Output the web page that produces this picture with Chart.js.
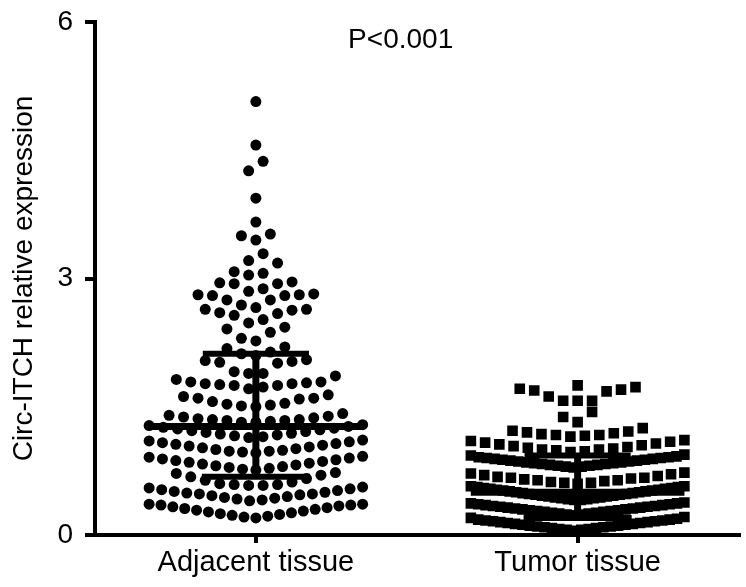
<!DOCTYPE html>
<html>
<head>
<meta charset="utf-8">
<script src="https://cdn.jsdelivr.net/npm/chart.js@4.4.1/dist/chart.umd.min.js"></script>
<style>
  html, body { margin: 0; padding: 0; background: #fff; }
  #wrap { width: 746px; height: 587px; }
</style>
</head>
<body>
<div id="wrap"><canvas id="myChart" width="746" height="587"></canvas></div>
<script>
// values
var categories = ["Adjacent tissue", "Tumor tissue"];
var yTicks = [0, 3, 6];
var pLabel = "P<0.001";

var adjacentValues = [
  0.20, 0.21, 0.22, 0.23, 0.24, 0.25, 0.26, 0.27, 0.28, 0.29, 0.30, 0.31, 0.32, 0.33, 0.34, 0.35, 0.35, 0.36, 0.36,
  0.40, 0.41, 0.42, 0.43, 0.44, 0.45, 0.46, 0.47, 0.48, 0.48, 0.49, 0.50, 0.51, 0.52, 0.53, 0.54, 0.55, 0.56,
  0.58, 0.58, 0.59, 0.59, 0.60, 0.62, 0.64, 0.66, 0.68, 0.70, 0.72, 0.73,
  0.76, 0.77, 0.78, 0.79, 0.80, 0.81, 0.82, 0.83, 0.84, 0.85, 0.86, 0.87, 0.88, 0.89, 0.90, 0.91, 0.92,
  0.96, 0.97, 0.98, 0.98, 0.99, 1.00, 1.01, 1.02, 1.03, 1.04, 1.05, 1.06, 1.07, 1.08, 1.09, 1.10, 1.11,
  1.14, 1.15, 1.16, 1.17, 1.18, 1.19, 1.20, 1.21, 1.22, 1.23, 1.24, 1.25, 1.26, 1.27, 1.28, 1.29,
  1.32, 1.32, 1.33, 1.34, 1.34, 1.35, 1.35, 1.36, 1.37, 1.38, 1.39, 1.40, 1.42,
  1.50, 1.51, 1.52, 1.53, 1.54, 1.56, 1.59, 1.60, 1.60, 1.62, 1.64,
  1.71, 1.73, 1.75, 1.75, 1.76, 1.77, 1.77, 1.78, 1.79, 1.79, 1.82, 1.86,
  1.89, 1.89, 1.91, 2.01, 2.02, 2.03, 2.04, 2.05,
  2.10, 2.12, 2.14, 2.18, 2.20,
  2.27, 2.30, 2.37, 2.41, 2.43,
  2.48, 2.52, 2.57, 2.59, 2.60, 2.63, 2.64, 2.64,
  2.66, 2.69, 2.75, 2.75, 2.80, 2.80, 2.81, 2.81, 2.82,
  2.85, 2.88, 2.94, 2.94, 2.95, 2.96,
  3.04, 3.06, 3.08, 3.18, 3.21, 3.29,
  3.45, 3.50, 3.52, 3.66, 3.94, 4.26, 4.37, 4.56, 5.07
];

var tumorValues = [
  0.05, 0.06, 0.06, 0.07, 0.07, 0.08, 0.08, 0.09, 0.09, 0.10, 0.10, 0.11, 0.11, 0.12, 0.12,
  0.13, 0.13, 0.14, 0.14, 0.15, 0.15, 0.16, 0.16, 0.17, 0.17, 0.18, 0.18, 0.19, 0.20, 0.21,
  0.23, 0.24, 0.24, 0.25, 0.25, 0.26, 0.26, 0.27, 0.27, 0.28, 0.28, 0.29, 0.29, 0.30, 0.30,
  0.31, 0.31, 0.32, 0.32, 0.33, 0.33, 0.34, 0.34, 0.35, 0.35, 0.36, 0.36, 0.37, 0.37, 0.38,
  0.41, 0.41, 0.42, 0.42, 0.43, 0.43, 0.44, 0.44, 0.45, 0.45, 0.46, 0.46, 0.47, 0.47, 0.48, 0.48, 0.49,
  0.49, 0.50, 0.50, 0.51, 0.51, 0.52, 0.52, 0.53, 0.53, 0.54, 0.54, 0.55, 0.55, 0.56, 0.56, 0.57, 0.57,
  0.60, 0.61, 0.61, 0.62, 0.63, 0.64, 0.64, 0.65, 0.66, 0.67, 0.67, 0.68, 0.69, 0.70, 0.71, 0.72, 0.73,
  0.79, 0.80, 0.80, 0.81, 0.81, 0.82, 0.82, 0.83, 0.83, 0.84, 0.84, 0.85, 0.85, 0.86,
  0.86, 0.87, 0.87, 0.88, 0.88, 0.89, 0.89, 0.90, 0.90, 0.91, 0.91, 0.92, 0.93, 0.94,
  0.97, 0.98, 0.99, 1.00, 1.00, 1.01, 1.02, 1.03, 1.04, 1.05, 1.06, 1.07, 1.08, 1.09, 1.10, 1.11,
  1.15, 1.16, 1.17, 1.17, 1.18, 1.19, 1.20, 1.21, 1.22, 1.25,
  1.32, 1.38, 1.44,
  1.57, 1.57, 1.57, 1.62, 1.68, 1.69, 1.70, 1.71, 1.73, 1.75
];

// median line and the two bars above / below it
var centerLine = [1.27, 0.50];
var lowerLine = [0.68, 0.20];
var upperLine = [2.12, 0.93];

var FONT = '"Liberation Sans", Arial, Helvetica, sans-serif';
Chart.defaults.font.family = FONT;
Chart.defaults.font.size = 28;
Chart.defaults.color = "#000";

// rows like a column scatter: close values share a row, lowest in the middle
function swarm(values, catX, xs, ys) {
    var pxX = xs.width / (xs.max - xs.min);
    var pxY = ys.height / (ys.max - ys.min);
    var binH = 14.5 / pxY;
    var step = 14.5 / pxX;
    var maxW = 214 / pxX;
    var sorted = values.slice().sort(function (a, b) { return a - b; });
    var rows = [], row = [];
    sorted.forEach(function (v) {
        if (row.length && v - row[0] >= binH - 1e-6) { rows.push(row); row = []; }
        row.push(v);
    });
    if (row.length) rows.push(row);
    var pts = [];
    rows.forEach(function (r) {
        var n = r.length;
        var s = n > 1 ? Math.min(step, maxW / (n - 1)) : 0;
        var slots = [];
        for (var i = 0; i < n; i++) slots.push((i - (n - 1) / 2) * s);
        slots.sort(function (a, b) { return (Math.abs(a) - Math.abs(b)) || (a - b); });
        r.forEach(function (v, i) { pts.push({ x: catX + slots[i], y: v }); });
    });
    return pts;
}

function lineSet(data, width) {
    return {
        type: "line", data: data, borderColor: "#000", borderWidth: width,
        pointRadius: 0, borderCapStyle: "butt", fill: false, showLine: true
    };
}

var barSets = [];
categories.forEach(function (c, i) {
    var cx = i + 0.5;
    barSets.push(lineSet([{ x: cx - 0.332, y: centerLine[i] }, { x: cx + 0.332, y: centerLine[i] }], 7));
    barSets.push(lineSet([{ x: cx - 0.165, y: upperLine[i] }, { x: cx + 0.165, y: upperLine[i] }], 6));
    barSets.push(lineSet([{ x: cx - 0.168, y: lowerLine[i] }, { x: cx + 0.168, y: lowerLine[i] }], 6));
    barSets.push(lineSet([{ x: cx, y: lowerLine[i] }, { x: cx, y: upperLine[i] }], 7));
});

var pValuePlugin = {
    id: "pValue",
    afterDraw: function (chart) {
        var ctx = chart.ctx;
        ctx.save();
        ctx.font = "28px " + FONT;
        ctx.fillStyle = "#000";
        ctx.textAlign = "center";
        ctx.textBaseline = "alphabetic";
        ctx.fillText(pLabel, chart.scales.x.getPixelForValue(0.95), chart.scales.y.getPixelForValue(5.70));
        ctx.restore();
    }
};

var ctxP = document.getElementById("myChart").getContext("2d");
var myChart = new Chart(ctxP, {
    type: "scatter",
    data: {
        datasets: [
            { data: [], pointStyle: "circle", pointRadius: 5.5, backgroundColor: "#000", borderWidth: 0 },
            { data: [], pointStyle: "rect", pointRadius: 7.5, backgroundColor: "#000", borderWidth: 0 }
        ].concat(barSets)
    },
    options: {
        responsive: false,
        animation: false,
        devicePixelRatio: 1,
        layout: { padding: { top: 22, right: 6, left: 0, bottom: 0 } },
        plugins: { legend: { display: false }, tooltip: { enabled: false } },
        scales: {
            x: {
                type: "linear", min: 0, max: 2,
                afterBuildTicks: function (s) { s.ticks = categories.map(function (c, i) { return { value: i + 0.5 }; }); },
                afterFit: function (s) { s.height = 52; s.paddingLeft = 0; s.paddingRight = 0; },
                ticks: {
                    autoSkip: false, maxRotation: 0, padding: 3,
                    font: { size: 29 },
                    callback: function (v) { return categories[Math.round(v - 0.5)]; }
                },
                grid: { drawOnChartArea: false, color: "#000", lineWidth: 4, tickLength: 8 },
                border: { color: "#000", width: 4 }
            },
            y: {
                min: 0, max: 6,
                afterBuildTicks: function (s) { s.ticks = yTicks.map(function (v) { return { value: v }; }); },
                afterFit: function (s) { s.width = 95; s.paddingTop = 0; s.paddingBottom = 0; },
                ticks: { padding: 12 },
                grid: { drawOnChartArea: false, color: "#000", lineWidth: 4, tickLength: 10 },
                border: { color: "#000", width: 4 },
                title: { display: true, text: "Circ-ITCH relative expression", font: { size: 28 }, padding: { top: 7, bottom: 4 } }
            }
        }
    },
    plugins: [pValuePlugin]
});

myChart.data.datasets[0].data = swarm(adjacentValues, 0.5, myChart.scales.x, myChart.scales.y);
myChart.data.datasets[1].data = swarm(tumorValues, 1.5, myChart.scales.x, myChart.scales.y);
myChart.update("none");
</script>
</body>
</html>
